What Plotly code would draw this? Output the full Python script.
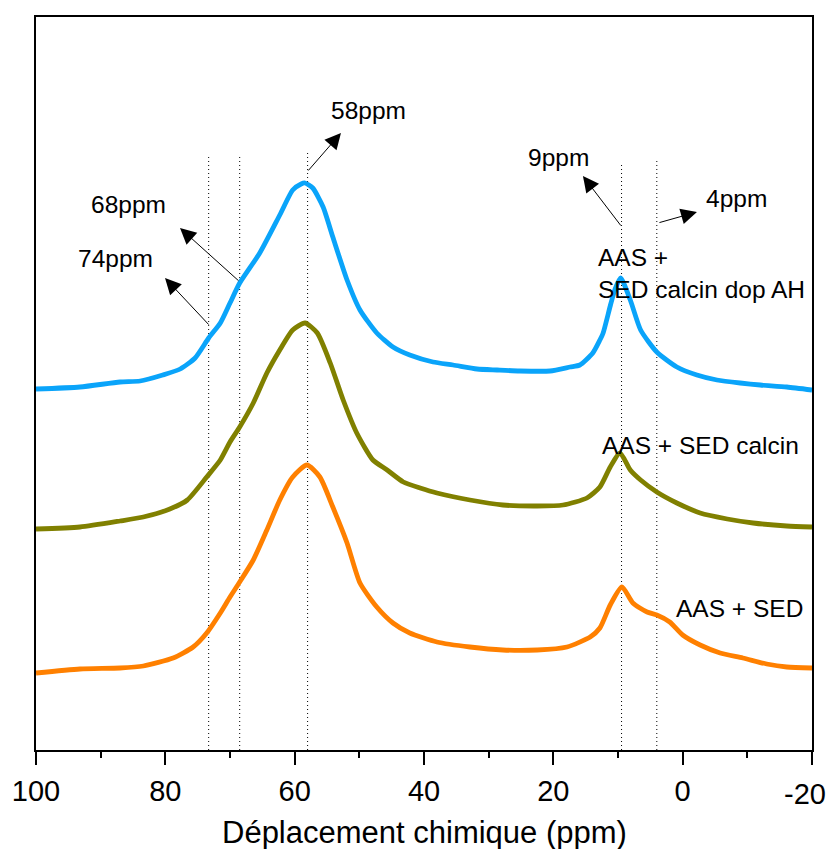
import plotly.graph_objects as go

# ---- data (chemical shift in ppm, intensity in arbitrary units, stacked) ----
ppm_dopah = [100, 93.2, 87, 83.9, 80.4, 77.7, 75.4, 73.3, 71.5, 70, 68.5, 65.4, 62.3, 60.3, 59, 58.4,
             57.2, 55.6, 54.1, 51.9, 49.9, 47.3, 44.8, 42.2, 38.6, 35.5, 31.8, 28.7, 25.2, 20.5, 17.4,
             15.9, 13.9, 12.8, 12.3, 11.2, 10.5, 9.6, 8.1, 6.5, 4, 0.9, -2.2, -5.3, -8.9, -12, -16.1, -20]
int_dopah = [361, 363, 368, 369, 375, 381, 392, 412, 427, 447, 467, 497, 535, 560, 566, 567,
             562, 543, 513, 470, 440, 417, 403, 395, 388, 385, 381, 380, 379, 379, 383,
             385, 397, 410, 417, 444, 460, 472, 450, 420, 398, 383, 375, 370, 367, 365, 363, 360]

ppm_calcin = [100, 93.2, 87, 83.4, 79.3, 76.6, 73.6, 71.5, 70, 68.5, 66.4, 64.3, 62.3, 60.3, 58.4,
              56.5, 54.5, 52.5, 50.4, 47.9, 45.7, 43.2, 40.6, 38, 32.9, 27.8, 22.5, 18.5, 14.8, 12.8,
              11.2, 9.7, 8.1, 6.5, 4, 0.9, -2.7, -6.9, -10.9, -16.1, -20]
int_calcin = [221, 223, 229, 233, 241, 250, 273, 290, 308, 323, 347, 377, 400, 420, 427,
              417, 387, 350, 317, 290, 280, 268, 262, 257, 250, 245, 244, 245, 252, 263,
              283, 297, 280, 270, 258, 247, 237, 231, 227, 224, 223]

ppm_sed = [100, 93.2, 87, 83.4, 78.8, 75.7, 73.6, 71.5, 70, 68.5, 66.4, 64.3, 62.3, 60.3, 58.1,
           56.1, 54.1, 51.9, 49.9, 47.3, 44.8, 42.2, 38, 32.9, 27.8, 22.5, 17.9, 14.3, 12.8, 11.2,
           9.4, 7.7, 5.5, 4, 2, 0, -2.7, -5.8, -9.3, -13, -16.1, -20]
int_sed = [77, 81, 82, 84, 92, 103, 117, 137, 153, 168, 190, 220, 250, 273, 285,
           273, 243, 207, 167, 143, 127, 117, 108, 103, 100, 100, 103, 113, 122, 145,
           163, 147, 138, 135, 128, 115, 105, 97, 92, 86, 83, 82]

series_names = ["AAS + SED calcin dop AH", "AAS + SED calcin", "AAS + SED"]
series_colors = ["#0AA4FA", "#808000", "#FF8000"]

peak_labels = ["74ppm", "68ppm", "58ppm", "9ppm", "4ppm"]
peak_ppm = [73.3, 68.5, 58.0, 9.45, 4.0]
peak_line_top = [594, 594, 597, 585, 590]

x_ticks = [100, 80, 60, 40, 20, 0, -20]
x_tick_labels = ["100", "80", "60", "40", "20", "0", "-20"]
x_title = "Déplacement chimique (ppm)"

FONT = "Liberation Sans, Arial, Helvetica, sans-serif"
ANN_SIZE = 24.5
TICK_SIZE = 29

fig = go.Figure()

# dotted reference lines
for p, top in zip(peak_ppm, peak_line_top):
    fig.add_trace(go.Scatter(x=[p, p], y=[0, top], mode="lines",
                             line=dict(color="black", width=1, dash="1px,3px"),
                             hoverinfo="skip", showlegend=False))

for xs, ys, name, col in zip([ppm_dopah, ppm_calcin, ppm_sed],
                             [int_dopah, int_calcin, int_sed],
                             series_names, series_colors):
    fig.add_trace(go.Scatter(x=xs, y=ys, mode="lines", name=name,
                             line=dict(color=col, width=4.8, shape="spline", smoothing=0.6),
                             showlegend=False))

ann = []
# arrows: (head ppm, head y, tail ppm, tail y)
arrows = [(80.05, 472, 73.09, 424),
          (77.73, 522, 68.46, 468),
          (52.84, 617, 58.09, 578),
          (15.42, 574, 9.39, 523),
          (-2.21, 538, 3.82, 527)]
for hx, hy, tx, ty in arrows:
    ann.append(dict(x=hx, y=hy, ax=tx, ay=ty, xref="x", yref="y", axref="x", ayref="y",
                    text="", showarrow=True, arrowhead=2, arrowsize=3.2, arrowwidth=1,
                    arrowcolor="black", standoff=0, startstandoff=0))

label_pos = [(87.78, 492), (85.62, 546), (48.51, 640), (19.13, 593), (-8.4, 552)]
for txt, (lx, ly) in zip(peak_labels, label_pos):
    ann.append(dict(x=lx, y=ly, xref="x", yref="y", text=txt, showarrow=False,
                    xanchor="center", yanchor="middle",
                    font=dict(family=FONT, size=ANN_SIZE, color="black")))

ann.append(dict(x=13.41, y=477, xref="x", yref="y", text="AAS +<br>SED calcin dop AH",
                showarrow=False, xanchor="left", yanchor="middle", align="left",
                font=dict(family=FONT, size=ANN_SIZE, color="black")))
ann.append(dict(x=-2.75, y=305, xref="x", yref="y", text="AAS + SED calcin",
                showarrow=False, xanchor="center", yanchor="middle",
                font=dict(family=FONT, size=ANN_SIZE, color="black")))
ann.append(dict(x=-8.86, y=142, xref="x", yref="y", text="AAS + SED",
                showarrow=False, xanchor="center", yanchor="middle",
                font=dict(family=FONT, size=ANN_SIZE, color="black")))
ann.append(dict(x=0.5, y=-0.113, xref="paper", yref="paper", text=x_title,
                showarrow=False, xanchor="center", yanchor="middle",
                font=dict(family=FONT, size=31, color="black")))
# last tick label drawn as an annotation, kept just inside the visible page edge
ann.append(dict(x=1.0205, y=-0.0595, xref="paper", yref="paper", text=x_tick_labels[-1],
                showarrow=False, xanchor="right", yanchor="middle",
                font=dict(family=FONT, size=TICK_SIZE, color="black")))

# page body has an 8px default margin -> shrink figure and shift margins to compensate
fig.update_layout(
    width=829, height=841, autosize=False,
    margin=dict(l=28, r=25, t=9, b=99, autoexpand=False),
    paper_bgcolor="white", plot_bgcolor="white",
    annotations=ann,
    font=dict(family=FONT, color="black"),
)
fig.update_xaxes(range=[100, -20], tickvals=x_ticks, ticktext=x_tick_labels[:-1] + [""],
                 ticks="outside", ticklen=13, tickwidth=2, tickcolor="black",
                 minor=dict(dtick=10, tick0=0, ticks="outside", ticklen=6, tickwidth=2, tickcolor="black"),
                 showline=True, linewidth=2, linecolor="black", mirror=True,
                 showgrid=False, zeroline=False, automargin=False,
                 tickfont=dict(family=FONT, size=TICK_SIZE, color="black"), ticklabelstandoff=1)
fig.update_yaxes(range=[0, 733], showticklabels=False, ticks="",
                 showline=True, linewidth=2, linecolor="black", mirror=True,
                 showgrid=False, zeroline=False, automargin=False)

fig.write_html("out.html")
